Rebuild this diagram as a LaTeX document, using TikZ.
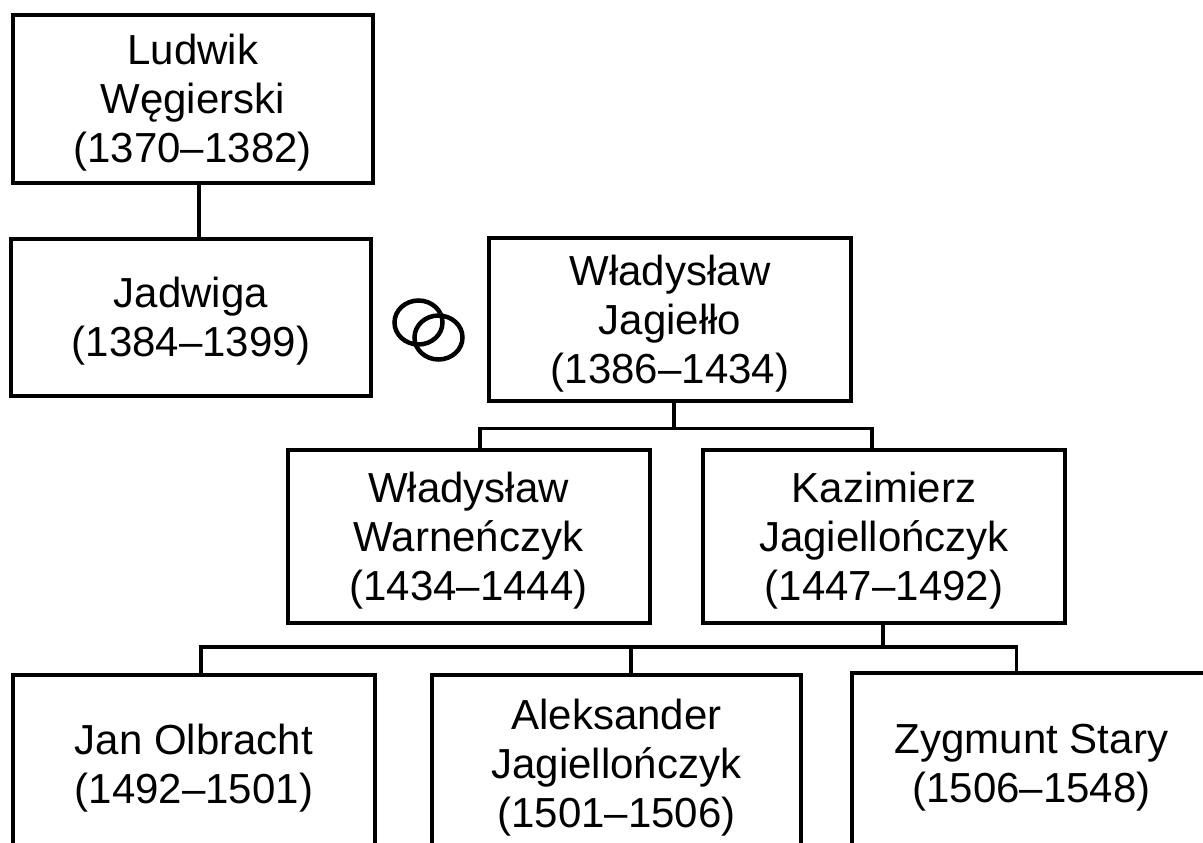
\documentclass[tikz,border=0pt]{standalone}
\usepackage{fontspec}
\setmainfont{Liberation Sans}
\newcommand\tstrut{\rule{0pt}{38pt}}
\begin{document}
\begin{tikzpicture}[x=1pt,y=-1pt,
  person/.style={draw, line width=4pt, align=center, inner sep=0pt,
    font=\fontsize{42}{49}\selectfont},
  link/.style={line width=3.5pt},
  ring/.style={line width=4.5pt}]
\useasboundingbox (0,0) rectangle (1203,843);
\clip (0,0) rectangle (1203,843);
% boxes
\node[person, minimum width=360pt, minimum height=168pt] (ludwik) at (192.7,99.2)
  {\tstrut Ludwik\\Węgierski\\(1370–1382)};
\node[person, minimum width=360pt, minimum height=157pt] (jadwiga) at (191,317)
  {\tstrut Jadwiga\\(1384–1399)};
\node[person, minimum width=362pt, minimum height=163pt] (jagiello) at (670,319.5)
  {\tstrut Władysław\\Jagiełło\\(1386–1434)};
\node[person, minimum width=362pt, minimum height=172.5pt] (warn) at (468.6,536.5)
  {\tstrut Władysław\\Warneńczyk\\(1434–1444)};
\node[person, minimum width=362pt, minimum height=172.5pt] (kazim) at (884,536.5)
  {\tstrut Kazimierz\\Jagiellończyk\\(1447–1492)};
\node[person, minimum width=361.5pt, minimum height=178pt] (jan) at (194,764)
  {\tstrut Jan Olbracht\\(1492–1501)};
\node[person, minimum width=369pt, minimum height=178pt] (alek) at (616.5,764)
  {\tstrut Aleksander\\Jagiellończyk\\(1501–1506)};
\node[person, minimum width=359pt, minimum height=181pt] (zyg) at (1031.5,763)
  {\tstrut Zygmunt Stary\\(1506–1548)};
% rings
\draw[ring] (418.5,322.5) ellipse [x radius=24pt, y radius=22pt];
\draw[ring] (438.5,337.5) ellipse [x radius=24pt, y radius=22pt];
% connectors
\draw[link] ([xshift=6.3pt]ludwik.south) -- ([xshift=6.3pt]ludwik.south |- jadwiga.north);
\coordinate (jb) at (674,428.5);
\coordinate (jl) at (480,428.5);
\coordinate (jr) at (872,428.5);
\draw[link] (jb |- jagiello.south) -- (jb);
\draw[link] (jl |- warn.north) -- (jl) -- (jr) -- (jr |- kazim.north);
\coordinate (kb) at (883,647);
\coordinate (kl) at (201,647);
\coordinate (km) at (631,647);
\coordinate (kr) at (1016.3,647);
\draw[link] (kb |- kazim.south) -- (kb);
\draw[link] (kl |- jan.north) -- (kl) -- (kr) -- (kr |- zyg.north);
\draw[link] (km) -- (km |- alek.north);
\end{tikzpicture}
\end{document}
